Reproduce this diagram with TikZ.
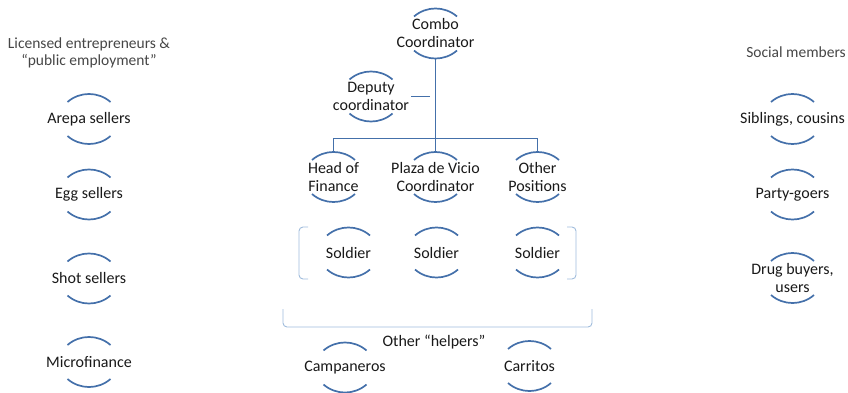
\documentclass[tikz,border=0pt]{standalone}
\usepackage{fontspec}
\setmainfont{Carlito}
\usepackage{tikz}
\definecolor{ringColor}{RGB}{68,112,170}
\definecolor{bracketColor}{RGB}{160,188,220}
\definecolor{headColor}{RGB}{70,70,70}
\tikzstyle{plan} = [x = 1pt, y = -1pt]
\tikzstyle{ringShape} = [circle, minimum size = 50pt, inner sep = 0pt]
\tikzstyle{roleText} = [inner sep = 0pt, align = center, font = \fontsize{16}{18}\selectfont, text = black!90]
\tikzstyle{ringLine} = [color = ringColor, line width = 1.7pt]
\tikzstyle{treeLine} = [color = ringColor, line width = 1.1pt]
\tikzstyle{bracketLine} = [color = bracketColor, line width = .9pt, rounded corners = 4pt]
\tikzstyle{headText} = [align = center, font = \fontsize{15.5}{17}\selectfont, text = headColor]
\newcommand{\ringArcs}[1]{
  \draw [ringLine] ([shift = {(-21.5,-17)}]#1.center) .. controls +(12.3,-10.7) and +(-12.3,-10.7) .. ([shift = {(21.5,-17)}]#1.center);
  \draw [ringLine] ([shift = {(-21.5,17)}]#1.center) .. controls +(12.3,10.7) and +(-12.3,10.7) .. ([shift = {(21.5,17)}]#1.center);
}
\newcommand{\roleNode}[4]{
  \node [ringShape] (#1) at (#2, #3) {};
  \node [roleText] (#1Text) at (#1.center) {#4};
  \ringArcs{#1}
}

\begin{document}
\begin{tikzpicture}[plan]
  \useasboundingbox (0,0) rectangle (848,393);

  % left column
  \node [headText] (licensedHead) at (89, 53) {Licensed entrepreneurs \&\\“public employment”};
  \foreach \name/\ypos/\label in {arepa/119/Arepa sellers, egg/194.5/Egg sellers, shot/278.5/Shot sellers, micro/362/Microfinance} {
    \roleNode{\name}{89}{\ypos}{\label}
  }

  % right column
  \node [headText] (socialHead) at (796, 52) {Social members};
  \roleNode{siblings}{792.5}{119}{Siblings, cousins}
  \roleNode{party}{792.5}{194.5}{Party-goers}
  \roleNode{drug}{792.5}{278}{Drug buyers,\\users}

  % hierarchy
  \roleNode{combo}{435.5}{33.5}{Combo\\Coordinator}
  \roleNode{deputy}{371}{96.5}{Deputy\\coordinator}
  \roleNode{head}{333.5}{177}{Head of\\Finance}
  \roleNode{plaza}{435.5}{177}{Plaza de Vicio\\Coordinator}
  \roleNode{other}{537.5}{177}{Other\\Positions}
  \coordinate (branch) at (435.5, 138.5);
  \coordinate (deputyTick) at (430, 96.5);
  \draw [treeLine] (combo.south) -- (plaza.north);
  \draw [treeLine] (head.north) |- (branch) -| (other.north);
  \draw [treeLine] ([xshift = 15pt]deputy.east) -- (deputyTick);

  % soldiers
  \roleNode{soldierA}{348.5}{252.5}{Soldier}
  \roleNode{soldierB}{436.5}{252.5}{Soldier}
  \roleNode{soldierC}{537.5}{252.5}{Soldier}
  \draw [bracketLine] (308, 227) -- (299, 227) -- (299, 279) -- (308, 279);
  \draw [bracketLine] (567, 227) -- (576, 227) -- (576, 279) -- (567, 279);

  % helpers
  \draw [bracketLine] (283, 309) -- (283, 327) -- (592, 327) -- (592, 309);
  \node [roleText] (helpers) at (434, 342) {Other “helpers”};
  \roleNode{campaneros}{345}{367.5}{Campaneros}
  \roleNode{carritos}{529.5}{366}{Carritos}
\end{tikzpicture}
\end{document}
